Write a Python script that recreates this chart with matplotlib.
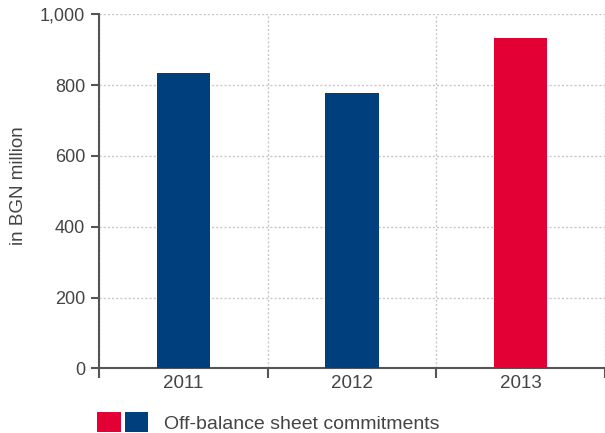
import matplotlib
matplotlib.use("Agg")
import matplotlib.pyplot as plt
from matplotlib.patches import Patch
from matplotlib.legend_handler import HandlerTuple
from matplotlib.ticker import FuncFormatter

years = ["2011", "2012", "2013"]
values = [834, 779, 933]
bar_colors = ["#003f7d", "#003f7d", "#e30034"]
y_ticks = [0, 200, 400, 600, 800, 1000]
legend_label = "Off-balance sheet commitments"
y_label = "in BGN million"

plt.rcParams['font.family'] = ['Liberation Sans', 'DejaVu Sans']
text_color = "#444444"
axis_color = "#555555"

fig = plt.figure(figsize=(6.05, 4.33), dpi=100)
ax = fig.add_axes([99/605, (433-368.3)/433, (605-99)/605, 354/433])

x = list(range(len(years)))
ax.bar(x, values, width=0.315, color=bar_colors, zorder=3)

ax.set_xlim(-0.5, 2.5)
ax.set_ylim(0, 1000)
ax.set_yticks(y_ticks)
ax.yaxis.set_major_formatter(FuncFormatter(lambda v, p: f"{int(v):,}"))
ax.set_xticks(x)
ax.set_xticklabels(years)
ax.set_xticks([-0.5, 0.5, 1.5, 2.5], minor=True)

for s in ["top", "right"]:
    ax.spines[s].set_visible(False)
for s in ["left", "bottom"]:
    ax.spines[s].set_color(axis_color)
    ax.spines[s].set_linewidth(1.5)

ax.tick_params(axis="y", direction="out", length=6, width=1.5, color=axis_color,
               labelsize=13, labelcolor=text_color, pad=4)
ax.tick_params(axis="x", which="major", length=0, labelsize=13.5, labelcolor=text_color, pad=5)
ax.tick_params(axis="x", which="minor", direction="out", length=7, width=1.5, color=axis_color)

ax.grid(axis="y", which="major", color="#c8c8c8", linestyle=(0, (1.5, 1.5)), linewidth=1.0, zorder=0)
ax.grid(axis="x", which="minor", color="#c8c8c8", linestyle=(0, (1.5, 1.5)), linewidth=1.0, zorder=0)
ax.set_axisbelow(True)

ax.set_ylabel(y_label, fontsize=13.5, color=text_color)
ax.yaxis.set_label_coords(-0.143, 0.515)

h = (Patch(facecolor="#e30034"), Patch(facecolor="#003f7d"))
fig.legend([h], [legend_label], handler_map={tuple: HandlerTuple(ndivide=None, pad=0.2)},
           loc="lower left", bbox_to_anchor=(97/605, 0.0), frameon=False,
           fontsize=14, labelcolor=text_color, handlelength=2.6, handleheight=1.19,
           handletextpad=0.8, borderaxespad=0.0, borderpad=0.02)

fig.savefig("out.png", dpi=100)
